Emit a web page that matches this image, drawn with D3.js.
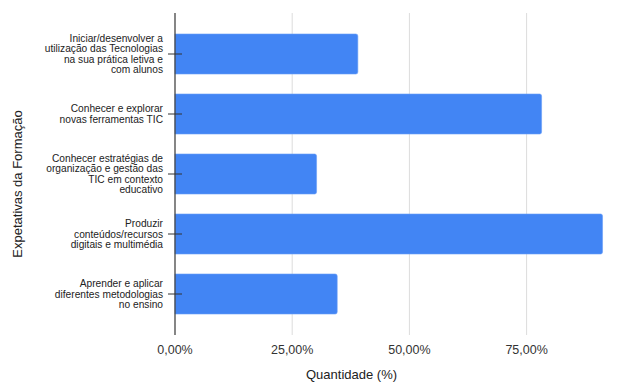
<!DOCTYPE html>
<html><head><meta charset="utf-8">
<script src="https://cdn.jsdelivr.net/npm/d3@7"></script>
<style>body{margin:0;background:#fff}svg{display:block}text{font-family:"Liberation Sans",Arial,sans-serif}</style>
</head><body><svg id="c" width="641" height="387"></svg>
<script>
const categories = [
  ["Iniciar/desenvolver a","utilização das Tecnologias","na sua prática letiva e","com alunos"],
  ["Conhecer e explorar","novas ferramentas TIC"],
  ["Conhecer estratégias de","organização e gestão das","TIC em contexto","educativo"],
  ["Produzir","conteúdos/recursos","digitais e multimédia"],
  ["Aprender e aplicar","diferentes metodologias","no ensino"]
];
const values = [39.0, 78.2, 30.2, 91.2, 34.6];
const xTicks = [0, 25, 50, 75];
const xTitle = "Quantidade (%)";
const yTitle = "Expetativas da Formação";

const svg = d3.select("#c");
const plotLeft = 175, plotTop = 13, plotBottom = 335;
const x = d3.scaleLinear().domain([0, 25]).range([plotLeft, 292.2]);
const y = d3.scaleBand().domain(d3.range(categories.length)).range([14, 334]).paddingInner(1/3).paddingOuter(1/3);

// gridlines
svg.append("g").selectAll("line").data(xTicks.filter(d => d > 0)).join("line")
  .attr("x1", d => x(d)).attr("x2", d => x(d)).attr("y1", plotTop).attr("y2", plotBottom)
  .attr("stroke", "#dcdcdc").attr("stroke-width", 1);

// bars
svg.append("g").selectAll("path").data(values).join("path")
  .attr("d", (d, i) => {
    const x0 = x(0), x1 = x(d), y0 = y(i), h = y.bandwidth(), r = 2;
    return `M${x0},${y0}H${x1 - r}Q${x1},${y0} ${x1},${y0 + r}V${y0 + h - r}Q${x1},${y0 + h} ${x1 - r},${y0 + h}H${x0}Z`;
  })
  .attr("fill", "#4285f4").attr("stroke", "#6a9ef6").attr("stroke-width", 0.6);

// zero axis line
svg.append("line").attr("x1", x(0)).attr("x2", x(0)).attr("y1", plotTop).attr("y2", plotBottom)
  .attr("stroke", "#444").attr("stroke-width", 1.3);

// y ticks and labels
const yg = svg.append("g");
categories.forEach((lines, i) => {
  const cy = y(i) + y.bandwidth() / 2;
  yg.append("line").attr("x1", x(0) - 7).attr("x2", x(0) + 7).attr("y1", cy).attr("y2", cy)
    .attr("stroke", "#333").attr("stroke-width", 1);
  const lh = 10.3;
  const t = yg.append("text").attr("text-anchor", "end").attr("font-size", 10.2).attr("fill", "#222");
  lines.forEach((l, j) => {
    t.append("tspan").attr("x", 163).attr("y", cy + (j - (lines.length - 1) / 2) * lh + 3.6).text(l);
  });
});

// x tick labels
const fmt = d => d.toFixed(2).replace(".", ",") + "%";
svg.append("g").selectAll("text").data(xTicks).join("text")
  .attr("x", d => x(d)).attr("y", 353.5).attr("text-anchor", "middle")
  .attr("font-size", 12.5).attr("fill", "#333").text(fmt);

// titles
svg.append("text").attr("x", 351.5).attr("y", 378.5).attr("text-anchor", "middle")
  .attr("font-size", 13).attr("fill", "#222").text(xTitle);
svg.append("text").attr("transform", "translate(21.5,184) rotate(-90)").attr("text-anchor", "middle")
  .attr("font-size", 13).attr("fill", "#222").text(yTitle);
</script></body></html>
